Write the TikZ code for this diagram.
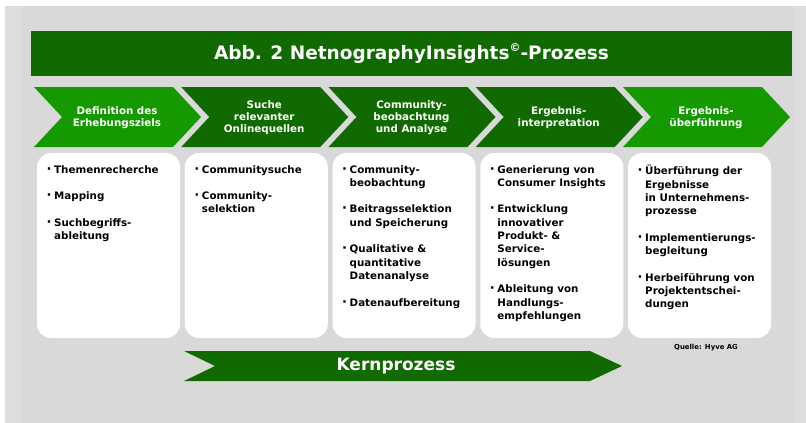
\documentclass[tikz,border=0pt]{standalone}
\usepackage{fontspec}
\setmainfont{DejaVu Sans}
\definecolor{dkgreen}{RGB}{16,106,0}
\definecolor{ltgreen}{RGB}{22,152,0}
\definecolor{bggray}{RGB}{217,217,217}
\definecolor{stripgray}{RGB}{221,221,223}
\newcommand\bl{\makebox[7pt][l]{\hspace*{-0.6pt}{\fontsize{13}{13}\selectfont·}}}
\newcommand\ind{\hspace*{7pt}}
\tikzset{
  chevtext/.style={text=white, font=\bfseries\fontsize{10.3}{11.7}\selectfont, align=center, inner sep=0pt},
  cardbox/.style={fill=white, rounded corners=14pt},
  cardtext/.style={font=\bfseries\fontsize{10.3}{13.3}\selectfont, align=left, anchor=north west, inner sep=0pt, text=black},
}
\begin{document}
\begin{tikzpicture}[x=1pt,y=-1pt]
\useasboundingbox (0,0) rectangle (806,423);
% background
\fill[white] (0,0) rectangle (806,423);
\fill[stripgray] (5,6) rectangle (806,423);
\fill[bggray] (22,6) rectangle (794,423);
% title bar
\fill[dkgreen] (31,31) rectangle (792,76);
\node[text=white, font=\bfseries\fontsize{18.5}{22}\selectfont, inner sep=0pt] (title) at (411.5,53.5)
  {Abb. 2 NetnographyInsights\raisebox{0.42em}{\fontsize{11}{11}\selectfont ©}-Prozess};
% chevrons
\foreach \i/\col in {0/ltgreen,1/dkgreen,2/dkgreen,3/dkgreen,4/ltgreen}{
  \pgfmathsetmacro\L{34+147.25*\i}
  \fill[\col] (\L,87) -- (\L+139,87) -- (\L+167,117) -- (\L+139,147) -- (\L,147) -- (\L+28,117) -- cycle;
}
\node[chevtext] (c1) at (34+83,117.5) {Definition des\\Erhebungsziels};
\node[chevtext] (c2) at (181.25+83,117.5) {Suche\\relevanter\\Onlinequellen};
\node[chevtext] (c3) at (328.5+83,117.5) {Community-\\beobachtung\\und Analyse};
\node[chevtext] (c4) at (475.75+83,117.5) {Ergebnis-\\interpretation};
\node[chevtext] (c5) at (623+83,117.5) {Ergebnis-\\überführung};
% cards
\foreach \i in {0,...,4}{
  \pgfmathsetmacro\L{37+147.75*\i}
  \fill[cardbox] (\L,153) rectangle (\L+143,338);
}
\node[cardtext] (t1) at (47,165)
  {\bl Themenrecherche\\[13.3pt]\bl Mapping\\[13.3pt]\bl Suchbegriffs-\\\ind ableitung};
\node[cardtext] (t2) at (194.75,165)
  {\bl Communitysuche\\[13.3pt]\bl Community-\\\ind selektion};
\node[cardtext] (t3) at (342.5,165)
  {\bl Community-\\\ind beobachtung\\[13.3pt]\bl Beitragsselektion\\\ind und Speicherung\\[13.3pt]\bl Qualitative \&\\\ind quantitative\\\ind Datenanalyse\\[13.3pt]\bl Datenaufbereitung};
\node[cardtext] (t4) at (490.25,165)
  {\bl Generierung von\\\ind Consumer Insights\\[13.3pt]\bl Entwicklung\\\ind innovativer\\\ind Produkt- \&\\\ind Service-\\\ind lösungen\\[13.3pt]\bl Ableitung von\\\ind Handlungs-\\\ind empfehlungen};
\node[cardtext] (t5) at (638,165)
  {\bl Überführung der\\\ind Ergebnisse\\\ind in Unternehmens-\\\ind prozesse\\[13.3pt]\bl Implementierungs-\\\ind begleitung\\[13.3pt]\bl Herbeiführung von\\\ind Projektentschei-\\\ind dungen};
% source
\node[font=\bfseries\fontsize{6.9}{8}\selectfont, inner sep=0pt] (src) at (706,348) {Quelle: Hyve AG};
% Kernprozess arrow
\fill[dkgreen] (184,351) -- (590,351) -- (622,366) -- (590,381) -- (184,381) -- (215,366) -- cycle;
\node[text=white, font=\bfseries\fontsize{17}{20}\selectfont, inner sep=0pt] (kern) at (396,366) {Kernprozess};
\end{tikzpicture}
\end{document}
